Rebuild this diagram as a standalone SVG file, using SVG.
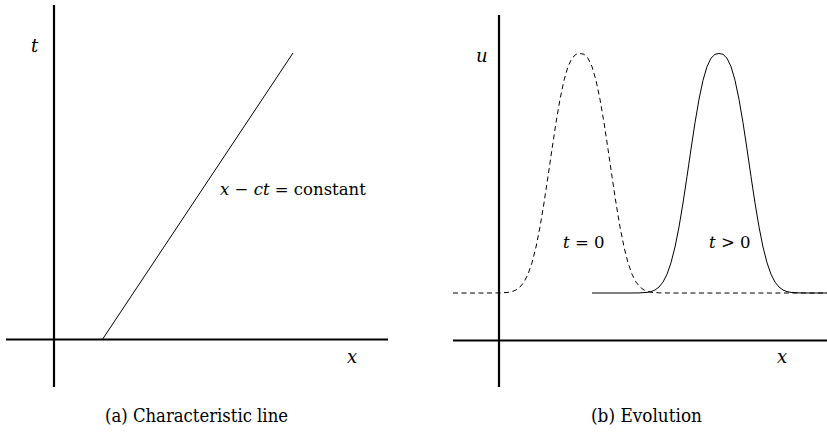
<svg xmlns="http://www.w3.org/2000/svg" width="827" height="432" viewBox="0 0 827 432">
<style>
.axis{stroke:#000;stroke-width:2.2;fill:none}
.thin{stroke:#000;stroke-width:1;fill:none;stroke-linejoin:round}
.dash{stroke:#000;stroke-width:1;fill:none;stroke-dasharray:5 3.5;stroke-linejoin:round}
.lbl{font-family:'DejaVu Serif',serif;font-size:18px;fill:#000}
.sm{font-size:16.5px}
.it{font-style:italic}
</style>
<rect width="827" height="432" fill="#fff"/>
<g id="panel-a">
  <g id="axes-a">
    <line class="axis" x1="54" y1="5" x2="54" y2="387"/>
    <line class="axis" x1="6" y1="339.5" x2="388" y2="339.5"/>
  </g>
  <g id="connectors-a">
    <line class="thin" x1="102.7" y1="339" x2="293" y2="53"/>
  </g>
  <g id="labels-a">
    <text class="lbl it" x="31" y="52">t</text>
    <text class="lbl sm" x="220" y="195"><tspan class="it">x</tspan> − <tspan class="it">ct</tspan> = constant</text>
    <text class="lbl it" x="347" y="363">x</text>
    <text class="lbl" x="105" y="422" textLength="183" lengthAdjust="spacingAndGlyphs">(a) Characteristic line</text>
  </g>
</g>
<g id="panel-b">
  <g id="axes-b">
    <line class="axis" x1="499" y1="15" x2="499" y2="387"/>
    <line class="axis" x1="453" y1="340.5" x2="827" y2="340.5"/>
  </g>
  <g id="curves-b">
    <path id="pulse-t0" class="dash" d="M453,293 L490,293 L500,292.9 L508,292.4 L512,291.6 L516,290 L520,287 L524,282.1 L528,274.2 L532,262.7 L536,247 L540,226.9 L544,203 L548,176.5 L552,149.1 L556,122.7 L560,99.3 L564,80.3 L568,66.6 L572,58.2 L576,54.3 L580,53.5 L584,54.3 L588,58.2 L592,66.6 L596,80.3 L600,99.3 L604,122.7 L608,149.1 L612,176.5 L616,203 L620,226.9 L624,247 L628,262.7 L632,274.2 L636,282.1 L640,287 L644,290 L648,291.6 L652,292.4 L660,292.9 L670,293 L827,293"/>
    <path id="pulse-t1" class="thin" d="M592,293 L629,293 L639,292.9 L647,292.4 L651,291.6 L655,290 L659,287 L663,282.1 L667,274.2 L671,262.7 L675,247 L679,226.9 L683,203 L687,176.5 L691,149.1 L695,122.7 L699,99.3 L703,80.3 L707,66.6 L711,58.2 L715,54.3 L719,53.5 L723,54.3 L727,58.2 L731,66.6 L735,80.3 L739,99.3 L743,122.7 L747,149.1 L751,176.5 L755,203 L759,226.9 L763,247 L767,262.7 L771,274.2 L775,282.1 L779,287 L783,290 L787,291.6 L791,292.4 L799,292.9 L809,293 L827,293"/>
  </g>
  <g id="labels-b">
    <text class="lbl it" x="476" y="62">u</text>
    <text class="lbl sm" x="563" y="248"><tspan class="it">t</tspan> = 0</text>
    <text class="lbl sm" x="709" y="248"><tspan class="it">t</tspan> &gt; 0</text>
    <text class="lbl it" x="777" y="363">x</text>
    <text class="lbl" x="591" y="422" textLength="111" lengthAdjust="spacingAndGlyphs">(b) Evolution</text>
  </g>
</g>
</svg>
